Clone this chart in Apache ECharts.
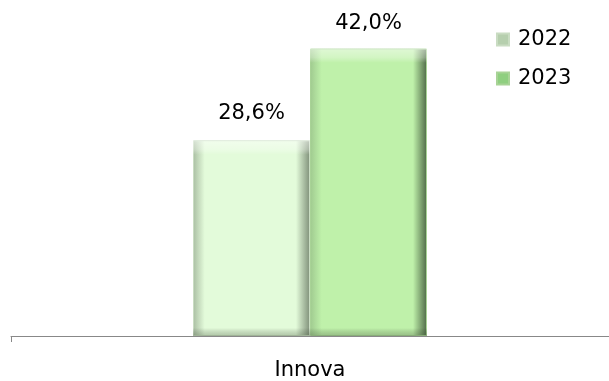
<!DOCTYPE html>
<html><head><meta charset="utf-8">
<script src="https://cdn.jsdelivr.net/npm/echarts@6/dist/echarts.min.js"></script>
<style>html,body{margin:0;padding:0;background:#fff}#c{width:609px;height:381px}</style>
</head><body><div id="c"></div>
<script>
const categories = ['Innova'];
const seriesNames = ['2022', '2023'];
const values2022 = [28.6];
const values2023 = [42.0];

function grad(edgeL, face, edgeR) {
  return new echarts.graphic.LinearGradient(0, 0, 1, 0, [
    {offset: 0, color: edgeL},
    {offset: 0.1, color: face},
    {offset: 0.88, color: face},
    {offset: 1, color: edgeR}
  ]);
}
function bevel(topPx, h) {
  const t = topPx / h;
  return new echarts.graphic.LinearGradient(0, 0, 0, 1, [
    {offset: 0, color: 'rgba(255,255,255,0.5)'},
    {offset: t, color: 'rgba(255,255,255,0.3)'},
    {offset: t * 1.6, color: 'rgba(255,255,255,0)'},
    {offset: 1 - t * 0.9, color: 'rgba(0,0,0,0)'},
    {offset: 1, color: 'rgba(60,80,50,0.3)'}
  ]);
}
const FONT = 'DejaVu Sans';
const chart = echarts.init(document.getElementById('c'));
const fmt = p => p.value.toFixed(1).replace('.', ',') + '%';
const BW = 117;
chart.setOption({
  animation: false,
  textStyle: {fontFamily: FONT},
  grid: {left: 11, right: 0, top: 28, bottom: 44},
  legend: {
    orient: 'vertical', left: 491, top: 24, itemGap: 18,
    itemWidth: 12, itemHeight: 12, icon: 'rect',
    textStyle: {fontSize: 21, color: '#000', fontFamily: FONT, padding: [0, 0, 0, 4]},
    data: [{name: seriesNames[0], itemStyle: {color: '#b6cfae'}}, {name: seriesNames[1], itemStyle: {color: '#8fcf80'}}]
  },
  xAxis: [{
    type: 'category', data: categories,
    axisLine: {lineStyle: {color: '#888', width: 1}},
    axisTick: {show: true, length: 6, lineStyle: {color: '#888'}},
    axisLabel: {fontSize: 21, color: '#000', margin: 24, fontFamily: FONT}
  }, {
    type: 'category', data: categories, show: false, position: 'bottom'
  }],
  yAxis: {type: 'value', min: 0, max: 45, show: false, splitLine: {show: false}},
  series: [
    {name: seriesNames[0], type: 'bar', data: values2022, barWidth: BW, barGap: '0%',
     itemStyle: {color: grad('#a9bda2', '#e3fbda', '#7f9079'), borderColor: '#c9dcc2', borderWidth: 1},
     label: {show: true, position: 'top', fontSize: 21, color: '#000', distance: 16, formatter: fmt, fontFamily: FONT}},
    {name: seriesNames[1], type: 'bar', data: values2023, barWidth: BW,
     itemStyle: {color: grad('#9fc98f', '#bff1aa', '#4f6a47'), borderColor: '#a8d396', borderWidth: 1},
     label: {show: true, position: 'top', fontSize: 21, color: '#000', distance: 14, formatter: fmt, fontFamily: FONT}},
    {name: 'bevel2022', type: 'bar', xAxisIndex: 1, data: values2022, barWidth: BW, barGap: '0%', silent: true,
     itemStyle: {color: bevel(9, 195)}},
    {name: 'bevel2023', type: 'bar', xAxisIndex: 1, data: values2023, barWidth: BW, silent: true,
     itemStyle: {color: bevel(9, 290)}}
  ]
});
</script></body></html>
